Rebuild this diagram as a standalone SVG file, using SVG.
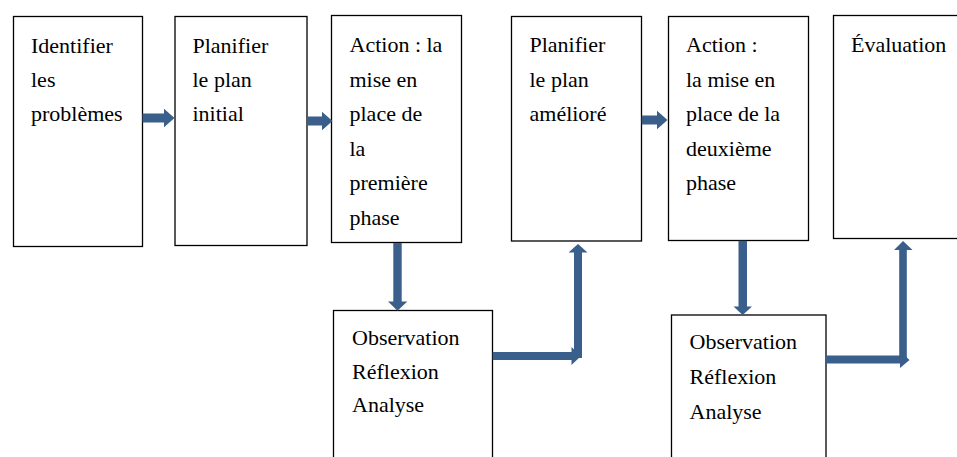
<svg xmlns="http://www.w3.org/2000/svg" width="957" height="457" viewBox="0 0 957 457" font-family="Times New Roman, serif">
<rect width="957" height="457" fill="#fff"/>
<g id="n1" fill="#fff" stroke="#000" stroke-width="1.3"><rect x="13.5" y="16.5" width="129" height="230"/>
<text stroke="none" fill="#000" font-family="Times New Roman, serif" font-size="22" x="31" y="53">Identifier</text><text stroke="none" fill="#000" font-family="Times New Roman, serif" font-size="22" x="31" y="87">les</text><text stroke="none" fill="#000" font-family="Times New Roman, serif" font-size="22" x="31" y="121">problèmes</text></g>
<g id="n2" fill="#fff" stroke="#000" stroke-width="1.3"><rect x="175" y="16.5" width="132" height="229"/>
<text stroke="none" fill="#000" font-family="Times New Roman, serif" font-size="22" x="192.5" y="53">Planifier</text><text stroke="none" fill="#000" font-family="Times New Roman, serif" font-size="22" x="192.5" y="87">le plan</text><text stroke="none" fill="#000" font-family="Times New Roman, serif" font-size="22" x="192.5" y="121">initial</text></g>
<g id="n3" fill="#fff" stroke="#000" stroke-width="1.3"><rect x="331.5" y="15.5" width="130" height="227"/>
<text stroke="none" fill="#000" font-family="Times New Roman, serif" font-size="22" x="349.5" y="52">Action : la</text><text stroke="none" fill="#000" font-family="Times New Roman, serif" font-size="22" x="349.5" y="86.5">mise en</text><text stroke="none" fill="#000" font-family="Times New Roman, serif" font-size="22" x="349.5" y="121">place de</text><text stroke="none" fill="#000" font-family="Times New Roman, serif" font-size="22" x="349.5" y="155.5">la</text><text stroke="none" fill="#000" font-family="Times New Roman, serif" font-size="22" x="349.5" y="190">première</text><text stroke="none" fill="#000" font-family="Times New Roman, serif" font-size="22" x="349.5" y="224.5">phase</text></g>
<g id="n4" fill="#fff" stroke="#000" stroke-width="1.3"><rect x="511.5" y="16.5" width="130" height="224.5"/>
<text stroke="none" fill="#000" font-family="Times New Roman, serif" font-size="22" x="529.5" y="52">Planifier</text><text stroke="none" fill="#000" font-family="Times New Roman, serif" font-size="22" x="529.5" y="87">le plan</text><text stroke="none" fill="#000" font-family="Times New Roman, serif" font-size="22" x="529.5" y="121">amélioré</text></g>
<g id="n5" fill="#fff" stroke="#000" stroke-width="1.3"><rect x="668.5" y="16.5" width="140" height="224"/>
<text stroke="none" fill="#000" font-family="Times New Roman, serif" font-size="22" x="686" y="52">Action :</text><text stroke="none" fill="#000" font-family="Times New Roman, serif" font-size="22" x="686" y="86.5">la mise en</text><text stroke="none" fill="#000" font-family="Times New Roman, serif" font-size="22" x="686" y="121">place de la</text><text stroke="none" fill="#000" font-family="Times New Roman, serif" font-size="22" x="686" y="155.5">deuxième</text><text stroke="none" fill="#000" font-family="Times New Roman, serif" font-size="22" x="686" y="190">phase</text></g>
<g id="n6" fill="#fff" stroke="#000" stroke-width="1.3"><rect x="833.5" y="15.5" width="140" height="223"/>
<text stroke="none" fill="#000" font-family="Times New Roman, serif" font-size="22" x="851" y="52">Évaluation</text></g>
<g id="n7" fill="#fff" stroke="#000" stroke-width="1.3"><rect x="333.5" y="310.5" width="159" height="160"/>
<text stroke="none" fill="#000" font-family="Times New Roman, serif" font-size="22" x="352" y="345">Observation</text><text stroke="none" fill="#000" font-family="Times New Roman, serif" font-size="22" x="352" y="378.5">Réflexion</text><text stroke="none" fill="#000" font-family="Times New Roman, serif" font-size="22" x="352" y="411.5">Analyse</text></g>
<g id="n8" fill="#fff" stroke="#000" stroke-width="1.3"><rect x="671.5" y="315" width="154.5" height="160"/>
<text stroke="none" fill="#000" font-family="Times New Roman, serif" font-size="22" x="689.5" y="349">Observation</text><text stroke="none" fill="#000" font-family="Times New Roman, serif" font-size="22" x="689.5" y="384">Réflexion</text><text stroke="none" fill="#000" font-family="Times New Roman, serif" font-size="22" x="689.5" y="419">Analyse</text></g>
<g id="connectors" fill="#3a5f8b">
<polygon points="142.5,113.5 164,113.5 164,108.7 174.5,118 164,127.3 164,122.5 142.5,122.5"/>
<polygon points="307,116.5 322,116.5 322,111.7 332.5,121 322,130.3 322,125.5 307,125.5"/>
<polygon points="641.7,115.5 657,115.5 657,110.7 667.5,120 657,129.3 657,124.5 641.7,124.5"/>
<polygon points="393.3,243 401.7,243 401.7,301.5 407.3,301.5 397.5,310.7 388,301.5 393.3,301.5"/>
<polygon points="738.5,240.7 747,240.7 747,306.5 752,306.5 742.7,315 733.5,306.5 738.5,306.5"/>
<polygon points="492.7,352 571.5,352 571.5,347 581,356 571.5,365 571.5,360 492.7,360"/>
<polygon points="574,358 574,252.5 568.5,252.5 578,244 587.5,252.5 582,252.5 582,358"/>
<polygon points="826,355.5 900,355.5 900,351 909.5,360 900,368 900,363.5 826,363.5"/>
<polygon points="899.2,361 899.2,250 894,250 903,241 912.5,250 906.8,250 906.8,361"/>
</g>
</svg>
